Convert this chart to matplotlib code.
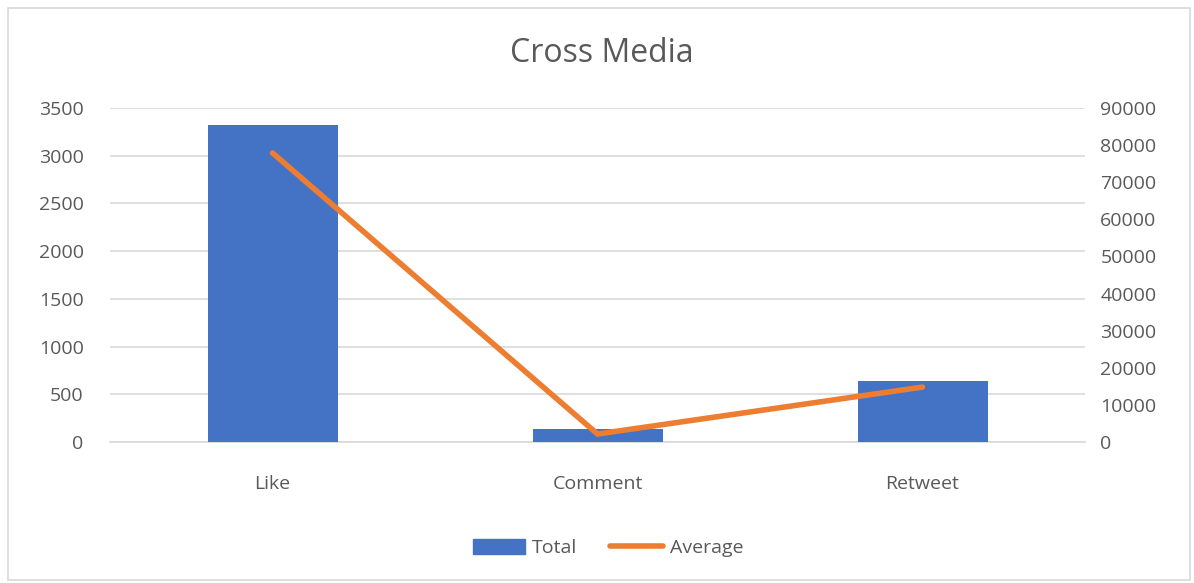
import matplotlib
matplotlib.use("Agg")
import matplotlib.pyplot as plt
from matplotlib.patches import Rectangle
from matplotlib.lines import Line2D
from matplotlib.patches import Patch

categories = ["Like", "Comment", "Retweet"]
total = [3322, 136, 639]
average = [77900, 2150, 14800]
left_ticks = [0, 500, 1000, 1500, 2000, 2500, 3000, 3500]
right_ticks = [0, 10000, 20000, 30000, 40000, 50000, 60000, 70000, 80000, 90000]

W, H = 1194, 583
plt.rcParams['font.family'] = ['Open Sans', 'DejaVu Sans']
fig = plt.figure(figsize=(W/100, H/100), dpi=100)
fig.patches.append(Rectangle((8/W, 3/H), (W-12)/W, (H-11)/H, transform=fig.transFigure,
                             fill=False, edgecolor='#d9d9d9', linewidth=1.2))

txt = '#595959'
ax = fig.add_axes([110/W, 1-442/H, 975/W, 334/H])
x = list(range(len(categories)))
ax.bar(x, total, width=0.4, color='#4472c4', zorder=3, label='Total')
ax.set_xlim(-0.5, 2.5)
ax.set_ylim(0, 3500)
ax.set_yticks(left_ticks)
ax.set_xticks(x)
ax.set_xticklabels(categories)
ax.yaxis.grid(True, color='#d9d9d9', linewidth=1.2, zorder=0)
for s in ['top', 'right', 'left']:
    ax.spines[s].set_visible(False)
ax.spines['bottom'].set_color('#d9d9d9')
ax.spines['bottom'].set_linewidth(1.2)
ax.tick_params(axis='both', length=0, labelsize=14, colors=txt)
ax.tick_params(axis='y', pad=19)
ax.tick_params(axis='x', pad=24)

ax2 = ax.twinx()
ax2.plot(x, average, color='#ed7d31', linewidth=4, solid_capstyle='round', zorder=4, label='Average')
ax2.set_ylim(0, 90000)
ax2.set_yticks(right_ticks)
for s in ['top', 'right', 'left', 'bottom']:
    ax2.spines[s].set_visible(False)
ax2.tick_params(axis='y', length=0, labelsize=14, colors=txt, pad=11)

fig.text(602/W, 1-54/H, "Cross Media", ha='center', va='center', fontsize=23, color=txt)

handles = [Patch(color='#4472c4'), Line2D([0], [0], color='#ed7d31', linewidth=4, solid_capstyle='round')]
fig.legend(handles, ['Total', 'Average'], loc='center', bbox_to_anchor=(608/W, 1-548/H), ncol=2,
           frameon=False, fontsize=14, labelcolor=txt, handlelength=2.7, handleheight=0.8,
           columnspacing=1.7, handletextpad=0.35)

fig.savefig("out.png", dpi=100)
